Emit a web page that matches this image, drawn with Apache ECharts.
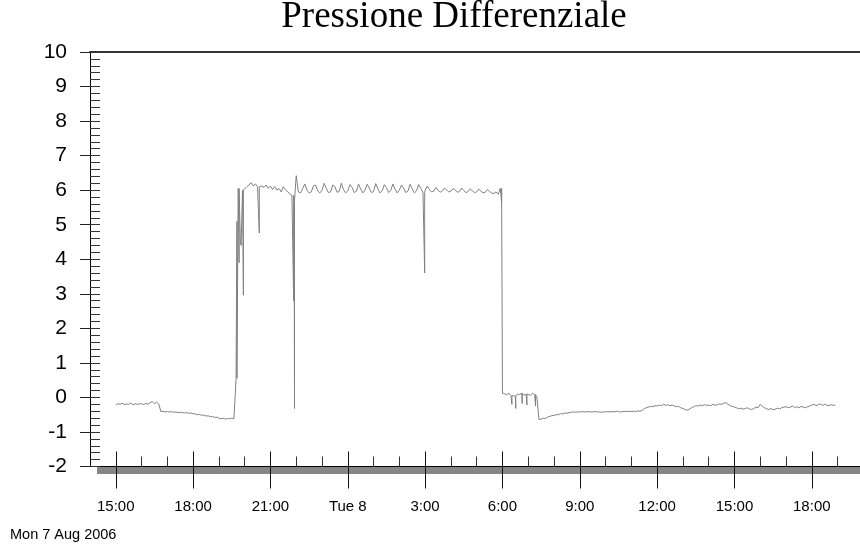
<!DOCTYPE html>
<html>
<head>
<meta charset="utf-8">
<title>Pressione Differenziale</title>
<script src="https://cdn.jsdelivr.net/npm/echarts@6/dist/echarts.min.js"></script>
<style>
  html, body { margin: 0; padding: 0; background: #fff; }
  #chart { width: 860px; height: 544px; }
</style>
</head>
<body>
<div id="chart"></div>
<script>
// samples every 5 minutes, first one Mon 7 Aug 2006 15:00, one row per hour
const startHour = 15
const stepMinutes = 5
const pressure = [
  -0.22, -0.18, -0.2, -0.17, -0.21, -0.19, -0.2, -0.16, -0.22, -0.18, -0.2, -0.19, // Mon 15
  -0.18, -0.21, -0.17, -0.2, -0.15, -0.12, -0.18, -0.14, -0.19, -0.41, -0.4, -0.42, // 16
  -0.41, -0.42, -0.41, -0.43, -0.42, -0.44, -0.43, -0.44, -0.45, -0.44, -0.46, -0.45, // 17
  -0.47, -0.48, -0.5, -0.49, -0.52, -0.51, -0.54, -0.53, -0.56, -0.55, -0.58, -0.57, // 18
  -0.6, -0.62, -0.6, -0.63, -0.61, -0.62, -0.6, -0.62, 0.55, 6.05, 4.5, 6.0, // 19
  6.05, 6.1, 6.15, 6.22, 6.12, 6.18, 6.1, 6.05, 6.12, 6.08, 6.15, 6.05, // 20
  6.12, 6.02, 6.1, 6.0, 6.05, 5.95, 6.1, 6.02, 5.95, 5.9, 5.85, 5.7, // 21
  6.42, 5.95, 5.92, 6.05, 6.18, 6.0, 5.92, 5.95, 6.12, 6.15, 5.98, 5.92, // 22
  6.0, 6.2, 6.05, 5.93, 5.95, 6.15, 6.1, 5.94, 5.96, 6.2, 6.02, 5.92, // 23
  5.98, 6.16, 6.08, 5.93, 5.97, 6.18, 6.03, 5.92, 6.0, 6.17, 6.06, 5.93, // Tue 0
  5.96, 6.19, 6.04, 5.92, 5.98, 6.16, 6.07, 5.93, 5.99, 6.18, 6.03, 5.92, // 1
  6.0, 6.15, 6.06, 5.93, 5.97, 6.17, 6.04, 5.92, 5.98, 6.16, 6.05, 5.94, // 2
  6.0, 6.12, 6.02, 5.95, 5.97, 6.08, 6.0, 5.94, 5.98, 6.06, 6.01, 5.95, // 3
  5.97, 6.05, 6.0, 5.94, 5.96, 6.06, 5.99, 5.93, 5.96, 6.04, 5.98, 5.93, // 4
  5.95, 6.03, 5.97, 5.92, 5.94, 6.02, 5.96, 5.92, 5.9, 5.95, 5.88, 6.05, // 5
  0.12, 0.1, 0.08, 0.12, 0.05, 0.1, 0.04, 0.1, 0.08, 0.12, 0.06, 0.1, // 6
  0.1, 0.06, 0.12, 0.08, 0.02, -0.64, -0.63, -0.6, -0.61, -0.57, -0.55, -0.53, // 7
  -0.52, -0.5, -0.5, -0.47, -0.48, -0.45, -0.46, -0.44, -0.43, -0.42, -0.43, -0.42, // 8
  -0.42, -0.41, -0.42, -0.42, -0.41, -0.42, -0.42, -0.41, -0.42, -0.42, -0.43, -0.42, // 9
  -0.42, -0.41, -0.42, -0.41, -0.42, -0.4, -0.41, -0.42, -0.41, -0.4, -0.41, -0.4, // 10
  -0.41, -0.4, -0.41, -0.39, -0.4, -0.38, -0.32, -0.3, -0.28, -0.26, -0.27, -0.24, // 11
  -0.25, -0.22, -0.24, -0.2, -0.23, -0.21, -0.24, -0.22, -0.25, -0.27, -0.26, -0.3, // 12
  -0.32, -0.35, -0.37, -0.34, -0.3, -0.27, -0.24, -0.25, -0.22, -0.24, -0.21, -0.23, // 13
  -0.22, -0.24, -0.2, -0.23, -0.21, -0.19, -0.2, -0.17, -0.15, -0.2, -0.24, -0.26, // 14
  -0.28, -0.3, -0.33, -0.31, -0.34, -0.32, -0.3, -0.33, -0.35, -0.32, -0.28, -0.3, // 15
  -0.2, -0.26, -0.3, -0.33, -0.35, -0.32, -0.36, -0.34, -0.31, -0.33, -0.3, -0.28, // 16
  -0.27, -0.3, -0.28, -0.25, -0.29, -0.27, -0.3, -0.26, -0.28, -0.3, -0.27, -0.25, // 17
  -0.22, -0.2, -0.24, -0.21, -0.19, -0.23, -0.2, -0.22, -0.24, -0.21, -0.23, -0.22 // 18
]

// short glitches between samples (time, value reached)
const spikes = [
  ['Mon 19:42', 5.1], ['Mon 19:47', 3.9], ['Mon 19:52', 4.4], ['Mon 19:57', 2.96],
  ['Mon 20:34', 4.76], ['Mon 21:54', 2.8], ['Mon 21:56', -0.32], ['Tue 02:59', 3.6],
  ['Tue 05:58', 5.65], ['Tue 06:22', -0.2], ['Tue 06:31', -0.32], ['Tue 06:46', -0.18],
  ['Tue 06:57', -0.22], ['Tue 07:17', -0.25]
]

// hours counted from Mon 00:00
const majorTicks = [15, 18, 21, 24, 27, 30, 33, 36, 39, 42]
const majorLabels = ['15:00', '18:00', '21:00', 'Tue 8', '3:00', '6:00', '9:00', '12:00', '15:00', '18:00']
const minorTicks = [16, 17, 19, 20, 22, 23, 25, 26, 28, 29, 31, 32, 34, 35, 37, 38, 40, 41, 43]

function toHours (s) {
  let parts = s.split(' ')
  let hm = parts[1].split(':')
  return (parts[0] === 'Tue' ? 24 : 0) + Number(hm[0]) + Number(hm[1]) / 60
}

let points = pressure.map((v, i) => [startHour + i * stepMinutes / 60, v])
spikes.forEach(sp => {
  let t = toHours(sp[0])
  let idx = Math.floor((t - startHour) * 60 / stepMinutes)
  let base = pressure[idx]
  points.push([t, base], [t, sp[1]], [t, base])
})
points.sort((a, b) => a[0] - b[0])

let myChart = echarts.init(document.getElementById('chart'))
let font = 'Liberation Sans, Arial, sans-serif'
let xRange = { min: 14, max: 43.87 }

myChart.setOption({
  animation: false,
  title: [
    {
      text: 'Pressione Differenziale',
      left: 449,
      textAlign: 'center',
      top: -6,
      textStyle: { fontFamily: 'Liberation Serif, Times New Roman, serif', fontSize: 37, fontWeight: 'normal', color: '#000' }
    },
    {
      text: 'Mon 7 Aug 2006',
      left: 10,
      top: 527,
      padding: 0,
      textStyle: { fontFamily: font, fontSize: 14.5, fontWeight: 'normal', color: '#000' }
    }
  ],
  grid: { left: 90, right: 0, top: 52, bottom: 77.5 },
  graphic: [
    // grey shadow under the time axis
    { type: 'rect', left: 97, top: 467, z: -1, shape: { width: 763, height: 7 }, style: { fill: '#868686' } }
  ],
  xAxis: [
    {
      type: 'value', ...xRange, position: 'bottom',
      axisLine: { onZero: false, lineStyle: { color: '#000', width: 1 } },
      axisTick: { customValues: majorTicks, length: 22, inside: false, lineStyle: { color: '#111' } },
      axisLabel: {
        customValues: majorTicks,
        margin: 33,
        fontFamily: font, fontSize: 15, color: '#000',
        formatter: v => majorLabels[majorTicks.indexOf(Math.round(v))]
      },
      splitLine: { show: false }
    },
    {
      type: 'value', ...xRange, position: 'bottom',
      axisLine: { show: false, onZero: false },
      axisTick: { customValues: majorTicks, length: 15, inside: true, lineStyle: { color: '#111' } },
      axisLabel: { show: false },
      splitLine: { show: false }
    },
    {
      type: 'value', ...xRange, position: 'bottom',
      axisLine: { show: false, onZero: false },
      axisTick: { customValues: minorTicks, length: 10, inside: true, lineStyle: { color: '#333' } },
      axisLabel: { show: false },
      splitLine: { show: false }
    },
    {
      type: 'value', ...xRange, position: 'top',
      axisLine: { onZero: false, lineStyle: { color: '#333', width: 2 } },
      axisTick: { show: false },
      axisLabel: { show: false },
      splitLine: { show: false }
    }
  ],
  yAxis: [
    {
      type: 'value', min: -2, max: 10, interval: 1,
      axisLine: { show: true, onZero: false, lineStyle: { color: '#000' } },
      axisTick: { show: true, length: 10, lineStyle: { color: '#222' } },
      axisLabel: { margin: 23, fontFamily: font, fontSize: 21, color: '#000' },
      splitLine: { show: false }
    },
    {
      type: 'value', min: -2, max: 10, interval: 0.2, position: 'left',
      axisLine: { show: false, onZero: false },
      axisTick: { show: true, inside: true, length: 10, lineStyle: { color: '#333' } },
      axisLabel: { show: false },
      splitLine: { show: false }
    }
  ],
  series: [
    {
      name: 'Pressione Differenziale',
      type: 'line',
      xAxisIndex: 0,
      yAxisIndex: 0,
      showSymbol: false,
      sampling: null,
      lineStyle: { color: '#808080', width: 1 },
      data: points
    }
  ]
})
</script>
</body>
</html>
